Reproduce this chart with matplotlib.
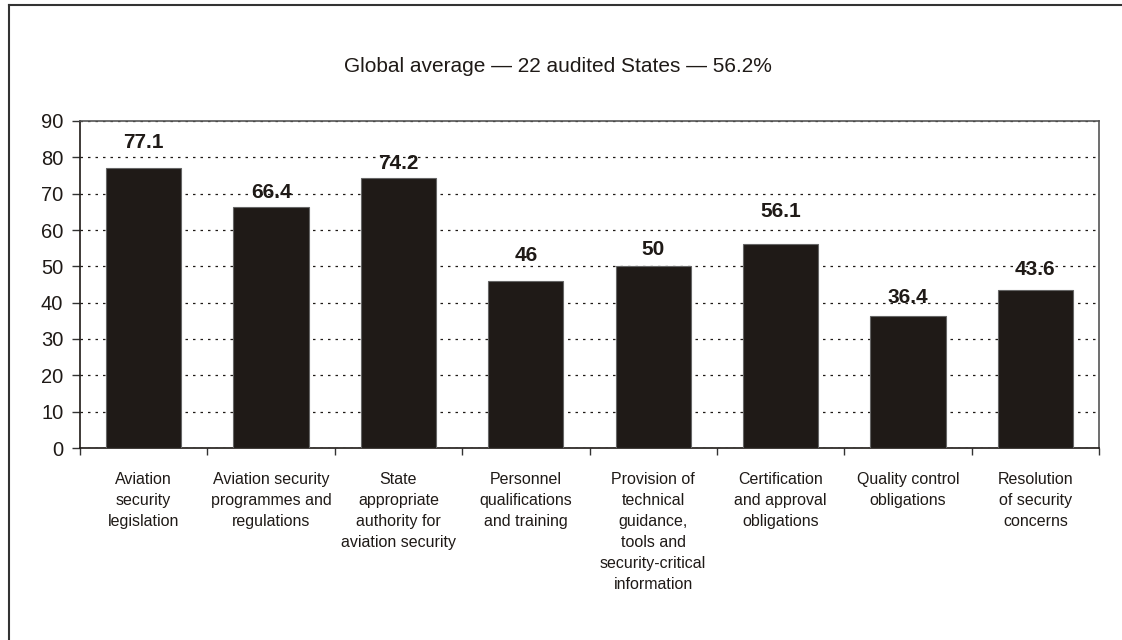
import matplotlib
matplotlib.use("Agg")
import matplotlib.pyplot as plt
from matplotlib.lines import Line2D
import numpy as np

categories = [
    "Aviation\nsecurity\nlegislation",
    "Aviation security\nprogrammes and\nregulations",
    "State\nappropriate\nauthority for\naviation security",
    "Personnel\nqualifications\nand training",
    "Provision of\ntechnical\nguidance,\ntools and\nsecurity-critical\ninformation",
    "Certification\nand approval\nobligations",
    "Quality control\nobligations",
    "Resolution\nof security\nconcerns",
]
values = [77.1, 66.4, 74.2, 46, 50, 56.1, 36.4, 43.6]
value_labels = ["77.1", "66.4", "74.2", "46", "50", "56.1", "36.4", "43.6"]
title = "Global average \u2014 22 audited States \u2014 56.2%"

# gap between bar top and label baseline, in pixels (as in the original)
label_gap_px = [20, 9, 9, 20, 11, 27, 13, 15]

plt.rcParams["font.family"] = ["Liberation Sans", "DejaVu Sans"]

W, H = 1122, 640
fig = plt.figure(figsize=(W / 100, H / 100), dpi=100)
ax = fig.add_axes([80 / W, 1 - 448 / H, (1099 - 80) / W, (448 - 121) / H])

x = np.arange(len(values))
ax.bar(x, values, width=0.59, color="#1f1a17", edgecolor="#666666",
       linewidth=0.8, zorder=3)
for xi, v, lab, gap in zip(x, values, value_labels, label_gap_px):
    ax.annotate(lab, (xi, v), xytext=(0, gap * 0.72), textcoords="offset points",
                ha="center", va="baseline", fontsize=15, fontweight="bold",
                color="#1f1a17", zorder=4)

ax.set_xlim(-0.5, len(values) - 0.5)
ax.set_ylim(0, 90)
ax.set_yticks(np.arange(0, 91, 10))
ax.tick_params(axis="y", labelsize=14.5, length=6, width=1, color="#333333",
               labelcolor="#1f1a17", pad=6)
ax.set_xticks(np.arange(-0.5, len(values), 1.0))
ax.set_xticklabels([])
ax.tick_params(axis="x", length=5, width=1, color="#333333", direction="out")
for xi, lab in zip(x, categories):
    ax.annotate(lab, (xi, 0), xytext=(0, -17), textcoords="offset points",
                ha="center", va="top", fontsize=11.5, color="#1f1a17",
                linespacing=1.5, annotation_clip=False)

ax.yaxis.grid(True, linestyle=(0, (2, 4)), color="#1f1a17", linewidth=0.9)
ax.set_axisbelow(True)
for side in ["left", "bottom"]:
    ax.spines[side].set_color("#1f1a17")
    ax.spines[side].set_linewidth(1.2)
for side in ["top", "right"]:
    ax.spines[side].set_color("#555555")
    ax.spines[side].set_linewidth(1.2)

fig.text(558 / W, 1 - 66 / H, title, ha="center", va="center",
         fontsize=15, color="#1f1a17")

fig.add_artist(Line2D([9 / W, 1], [1 - 5 / H, 1 - 5 / H], color="#333333",
                      linewidth=1.5, transform=fig.transFigure))
fig.add_artist(Line2D([9 / W, 9 / W], [0, 1 - 5 / H], color="#333333",
                      linewidth=1.5, transform=fig.transFigure))

fig.savefig("out.png", dpi=100)
